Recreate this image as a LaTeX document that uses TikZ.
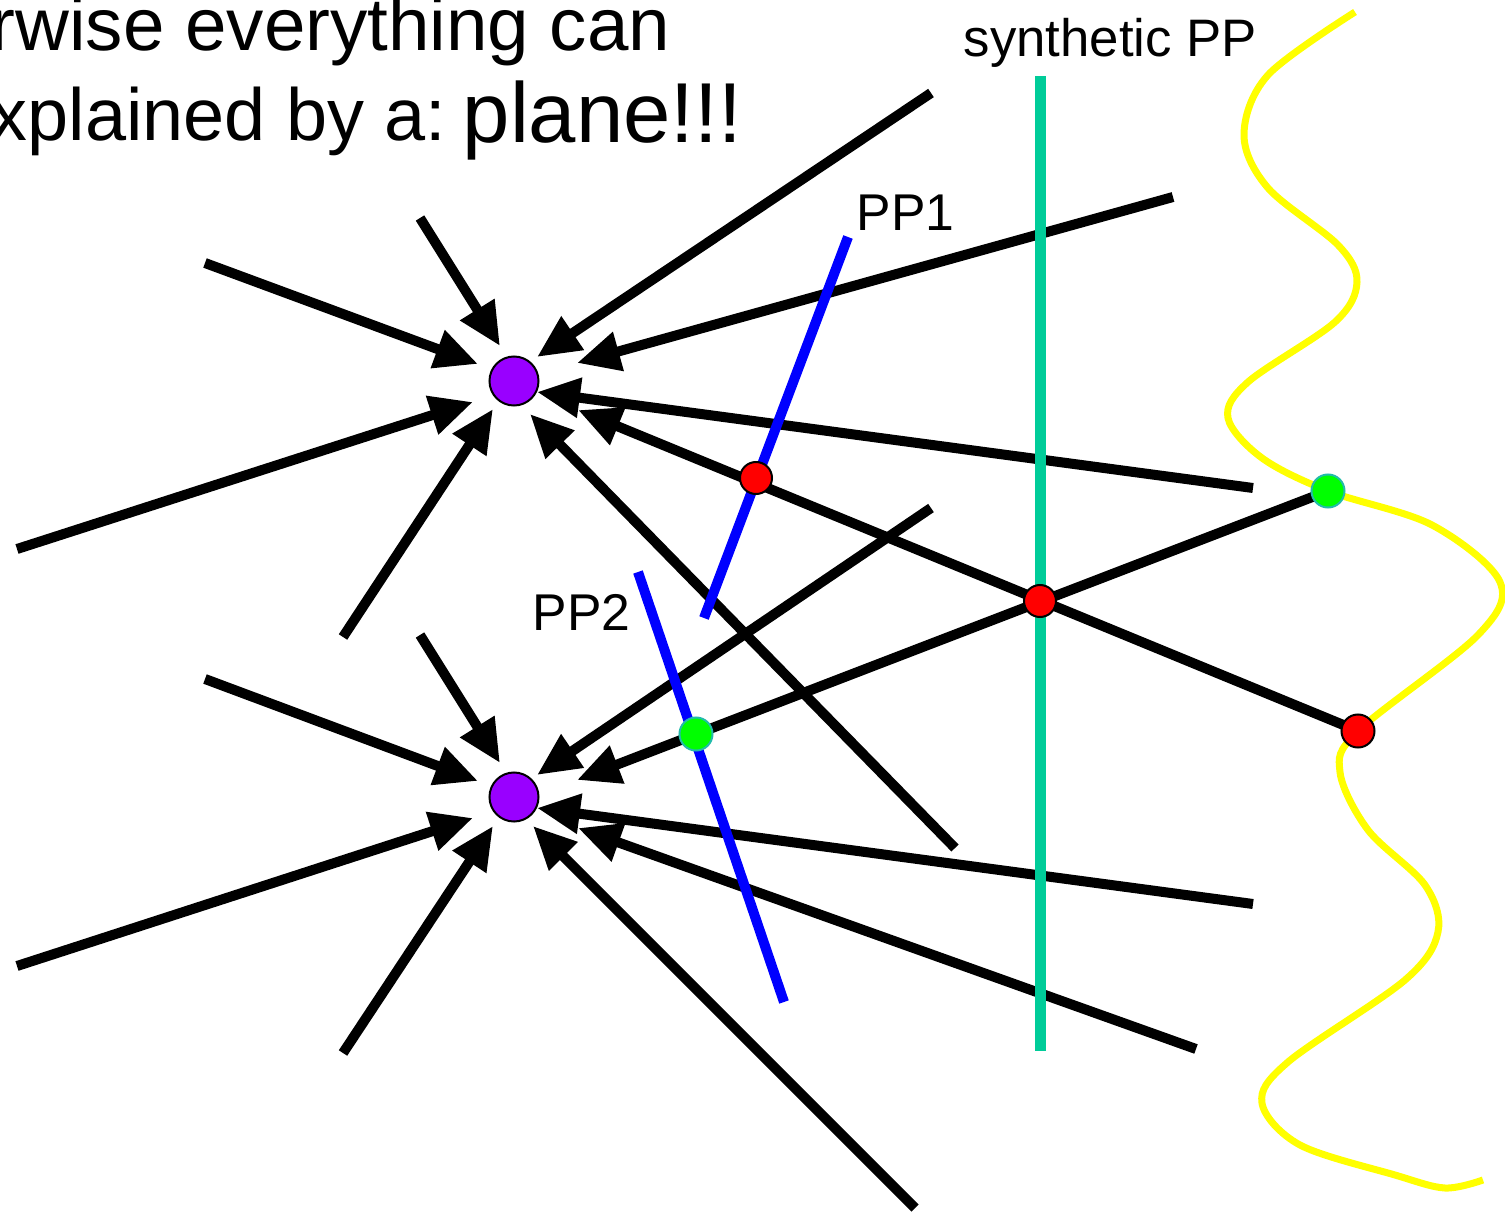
\documentclass[tikz,border=0pt]{standalone}
\usepackage{fontspec}
\setmainfont{Liberation Sans}
\usetikzlibrary{arrows.meta}
\definecolor{pviolet}{HTML}{9900FF}
\definecolor{pteal}{HTML}{00CC99}
\definecolor{pblue}{HTML}{0000FF}
\definecolor{pyellow}{HTML}{FFFF00}
\definecolor{pred}{HTML}{FF0000}
\definecolor{pgreen}{HTML}{00FF00}
\definecolor{pgreenedge}{HTML}{22BBAA}
\tikzset{
  ray/.style={line width=0.1cm,-{Triangle[length=0.43cm,width=0.38cm]}},
  ppline/.style={line width=0.1cm,pblue},
  synline/.style={line width=0.11cm,pteal},
  wavy/.style={line width=0.07cm,pyellow},
  pointdot/.style={circle,minimum size=0.49cm,inner sep=0pt,fill=pviolet,draw=black,line width=0.02cm},
  reddot/.style={circle,minimum size=0.32cm,inner sep=0pt,fill=pred,draw=black,line width=0.02cm},
  greendot/.style={circle,minimum size=0.33cm,inner sep=0pt,fill=pgreen,draw=pgreenedge,line width=0.02cm},
  lbl/.style={inner sep=0pt,anchor=base west}
}
\begin{document}
\begin{tikzpicture}[x=0.01cm,y=-0.01cm]
\useasboundingbox (0,0) rectangle (1505,1212);
% key points
\coordinate (r1) at (756,478);
\coordinate (r2) at (1040,601);
\coordinate (r3) at (1358,731);
\coordinate (g1) at (1328,491);
\coordinate (g2) at (696,734);
% arrows to upper point
\coordinate (ts1) at (420,218); \coordinate (tt1) at (500,346);
\coordinate (ts2) at (205,263); \coordinate (tt2) at (478,364);
\coordinate (ts3) at (17,549);  \coordinate (tt3) at (473,402);
\coordinate (ts4) at (343,637); \coordinate (tt4) at (493,409);
\coordinate (ts5) at (955,848); \coordinate (tt5) at (530,414);
\coordinate (tt6) at (578,410);
\coordinate (ts7) at (1253,488); \coordinate (tt7) at (537,392);
\coordinate (ts8) at (1173,197); \coordinate (tt8) at (577,363);
\coordinate (ts9) at (931,93);  \coordinate (tt9) at (537,357);
% arrows to lower point
\coordinate (bs1) at (420,635); \coordinate (bt1) at (500,763);
\coordinate (bs2) at (205,679); \coordinate (bt2) at (478,781);
\coordinate (bs3) at (17,966);  \coordinate (bt3) at (473,818);
\coordinate (bs4) at (343,1053); \coordinate (bt4) at (493,826);
\coordinate (bs5) at (915,1208); \coordinate (bt5) at (533,826);
\coordinate (bs6) at (1196,1049); \coordinate (bt6) at (578,828);
\coordinate (bs7) at (1253,904); \coordinate (bt7) at (537,808);
\coordinate (bt8) at (577,780);
\coordinate (bs9) at (931,508); \coordinate (bt9) at (537,775);

\foreach \i in {1,2,3,4,5,7,8,9} {
  \draw[ray] (ts\i) -- (tt\i);
}
\foreach \i in {1,2,3,4,5,6,7,9} {
  \draw[ray] (bs\i) -- (bt\i);
}
\draw[ray] (r3) -- (tt6);
\draw[ray] (g1) -- (bt8);

% planes
\coordinate (pp1a) at (848,237); \coordinate (pp1b) at (704,618);
\coordinate (pp2a) at (638,572); \coordinate (pp2b) at (784,1002);
\coordinate (spa) at (1040,76); \coordinate (spb) at (1040,1051);
\draw[ppline] (pp1a) -- (pp1b);
\draw[ppline] (pp2a) -- (pp2b);
\draw[synline] (spa) -- (spb);

% wavy surface
\draw[wavy] plot[smooth,tension=0.55] coordinates {
 (1355,12) (1268,75) (1244,135) (1268,188) (1338,245) (1357,282)
 (1335,322) (1248,382) (1228,418) (1262,458) (1328,491) (1432,525)
 (1500,582) (1478,635) (1358,731) (1340,772) (1368,830) (1425,885)
 (1438,932) (1405,980) (1288,1062) (1262,1103) (1300,1145) (1395,1175)
 (1445,1188) (1483,1180)};

% points
\node[pointdot] (c1) at (514,381) {};
\node[pointdot] (c2) at (514,797) {};
\node[reddot] (R1) at (r1) {};
\node[reddot] (R2) at (r2) {};
\node[reddot,minimum size=0.33cm] (R3) at (r3) {};
\node[greendot] (G1) at (g1) {};
\node[greendot] (G2) at (g2) {};

% labels
\node[lbl,font=\fontsize{21.2}{25}\selectfont] (l1) at (-10,51) {rwise everything can};
\node[lbl,font=\fontsize{21}{25}\selectfont] (l2) at (-10,140) {xplained by a:};
\node[lbl,font=\fontsize{24.2}{29}\selectfont] (l3) at (462,143) {plane!!!};
\node[lbl,font=\fontsize{15}{18}\selectfont] (l4) at (963,56) {synthetic PP};
\node[lbl,font=\fontsize{14.7}{18}\selectfont] (l5) at (856,230) {PP1};
\node[lbl,font=\fontsize{14.7}{18}\selectfont] (l6) at (532,630) {PP2};
\end{tikzpicture}
\end{document}
